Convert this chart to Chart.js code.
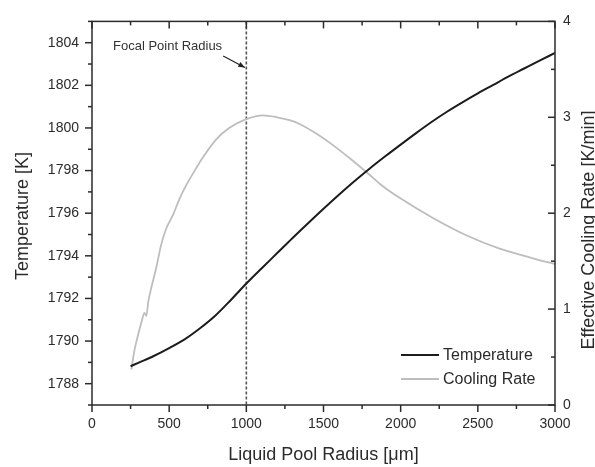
<!DOCTYPE html>
<html lang="en">
  <head>
    <meta charset="UTF-8" />
    <title>Liquid pool radius chart</title>
    <style>
      * {
        margin: 0;
        padding: 0;
        box-sizing: border-box;
      }
      body {
        background: #fff;
      }
      canvas {
        display: block;
      }
    </style>
  </head>
  <body>
    <canvas id="myChart" width="595" height="467"></canvas>

    <script src="https://cdn.jsdelivr.net/npm/chart.js"></script>
    <script>
      // temperature curve (left axis)
      const tempRadius = [250, 300, 400, 500, 600, 700, 800, 900, 1000, 1100, 1200, 1300, 1400, 1500,
        1600, 1700, 1800, 1900, 2000, 2100, 2200, 2300, 2400, 2500, 2600, 2700, 2800, 2900, 3000];
      const temperature = [1788.82, 1788.98, 1789.3, 1789.67, 1790.08, 1790.6, 1791.2, 1791.93, 1792.7,
        1793.42, 1794.13, 1794.84, 1795.53, 1796.21, 1796.87, 1797.5, 1798.1, 1798.67, 1799.22, 1799.76,
        1800.28, 1800.76, 1801.2, 1801.62, 1802.02, 1802.42, 1802.79, 1803.16, 1803.52];

      // cooling rate curve (right axis)
      const coolRadius = [255, 275, 300, 320, 340, 352, 365, 384, 416, 448, 481, 524, 567, 610, 653, 718,
        805, 891, 1000, 1107, 1200, 1280, 1345, 1453, 1561, 1680, 1777, 1870, 1993, 2209, 2425, 2641, 2857, 3000];
      const coolingRate = [0.37, 0.57, 0.74, 0.86, 0.96, 0.93, 1.08, 1.22, 1.43, 1.67, 1.84, 1.98, 2.15, 2.29,
        2.41, 2.58, 2.77, 2.89, 2.98, 3.02, 3.0, 2.97, 2.93, 2.83, 2.71, 2.56, 2.43, 2.3, 2.16, 1.95, 1.77,
        1.63, 1.53, 1.47];

      const xTicks = [0, 500, 1000, 1500, 2000, 2500, 3000];
      const tempTicks = [1788, 1790, 1792, 1794, 1796, 1798, 1800, 1802, 1804];
      const rateTicks = [0, 1, 2, 3, 4];
      const focalRadius = 1000;

      const FONT = "'Liberation Sans', Arial, sans-serif";
      const INK = "#2b2b2b";

      const decorations = {
        id: "decorations",
        beforeDatasetsDraw(chart) {
          const { ctx, chartArea: { top, bottom }, scales: { x } } = chart;
          const fx = x.getPixelForValue(focalRadius);
          ctx.save();
          ctx.strokeStyle = "#555";
          ctx.lineWidth = 1.6;
          ctx.setLineDash([3, 2]);
          ctx.beginPath();
          ctx.moveTo(fx, top);
          ctx.lineTo(fx, bottom);
          ctx.stroke();
          ctx.restore();
        },
        afterDraw(chart) {
          const {
            ctx,
            chartArea: { top, bottom, left, right },
            scales: { x, y, y1 },
          } = chart;
          ctx.save();

          // frame
          ctx.strokeStyle = INK;
          ctx.lineWidth = 1.5;
          ctx.strokeRect(left, top, right - left, bottom - top);

          function tick(x0, y0, x1, y1_) {
            ctx.beginPath();
            ctx.moveTo(x0, y0);
            ctx.lineTo(x1, y1_);
            ctx.stroke();
          }

          // x ticks: bottom outward, top inward
          for (let i = 0; i < xTicks.length; i++) {
            const px = x.getPixelForValue(xTicks[i]);
            tick(px, bottom, px, bottom + 7);
            tick(px, top, px, top + 7);
            if (i < xTicks.length - 1) {
              const mx = x.getPixelForValue((xTicks[i] + xTicks[i + 1]) / 2);
              tick(mx, bottom, mx, bottom + 4);
              tick(mx, top, mx, top + 4);
            }
          }
          // left ticks outward
          for (let v = Math.ceil(y.min); v <= y.max; v++) {
            const py = y.getPixelForValue(v);
            const major = tempTicks.includes(v);
            tick(left, py, left - (major ? 7 : 4), py);
          }
          // right ticks inward
          for (let i = 0; i < rateTicks.length; i++) {
            const py = y1.getPixelForValue(rateTicks[i]);
            tick(right, py, right - 7, py);
            if (i < rateTicks.length - 1) {
              const my = y1.getPixelForValue((rateTicks[i] + rateTicks[i + 1]) / 2);
              tick(right, my, right - 4, my);
            }
          }

          // axis titles
          ctx.fillStyle = INK;
          ctx.font = "18px " + FONT;
          ctx.textAlign = "center";
          ctx.textBaseline = "middle";
          ctx.fillText("Liquid Pool Radius [\u03bcm]", (left + right) / 2, 455);

          ctx.save();
          ctx.translate(23, 216);
          ctx.rotate(-Math.PI / 2);
          ctx.fillText("Temperature [K]", 0, 0);
          ctx.restore();

          ctx.save();
          ctx.translate(589, 230);
          ctx.rotate(-Math.PI / 2);
          ctx.fillText("Effective Cooling Rate [K/min]", 0, 0);
          ctx.restore();

          // legend
          const items = chart.data.datasets;
          ctx.font = "16px " + FONT;
          ctx.textAlign = "left";
          items.forEach((ds, i) => {
            const ly = 355 + i * 24;
            ctx.strokeStyle = ds.borderColor;
            ctx.lineWidth = ds.borderWidth;
            tick(401, ly, 439, ly);
            ctx.fillStyle = INK;
            ctx.fillText(ds.label, 443, ly + 1);
          });

          // focal point annotation
          ctx.font = "13px " + FONT;
          ctx.fillStyle = "#333";
          ctx.fillText("Focal Point Radius", 113, 46);
          const ax0 = x.getPixelForValue(850), ay0 = y1.getPixelForValue(3.64);
          const ax1 = x.getPixelForValue(focalRadius) - 1.5, ay1 = y1.getPixelForValue(3.52);
          ctx.strokeStyle = "#222";
          ctx.lineWidth = 1.2;
          tick(ax0, ay0, ax1, ay1);
          const ang = Math.atan2(ay1 - ay0, ax1 - ax0);
          ctx.fillStyle = "#222";
          ctx.beginPath();
          ctx.moveTo(ax1, ay1);
          ctx.lineTo(ax1 - 7 * Math.cos(ang - 0.4), ay1 - 7 * Math.sin(ang - 0.4));
          ctx.lineTo(ax1 - 7 * Math.cos(ang + 0.4), ay1 - 7 * Math.sin(ang + 0.4));
          ctx.closePath();
          ctx.fill();

          ctx.restore();
        },
      };

      const data = {
        datasets: [
          {
            label: "Temperature",
            data: tempRadius.map((r, i) => ({ x: r, y: temperature[i] })),
            yAxisID: "y",
            borderColor: "#1c1c1c",
            borderWidth: 2,
            pointRadius: 0,
            cubicInterpolationMode: "monotone",
          },
          {
            label: "Cooling Rate",
            data: coolRadius.map((r, i) => ({ x: r, y: coolingRate[i] })),
            yAxisID: "y1",
            borderColor: "#bdbdbd",
            borderWidth: 1.8,
            pointRadius: 0,
            cubicInterpolationMode: "monotone",
          },
        ],
      };

      const tickFont = { family: FONT, size: 14 };
      const plain = (v) => String(v);

      const config = {
        type: "line",
        data: data,
        options: {
          responsive: false,
          animation: false,
          layout: { padding: { top: 17, left: 0, right: 0, bottom: 0 } },
          plugins: {
            legend: { display: false },
            tooltip: { enabled: false },
          },
          scales: {
            x: {
              type: "linear",
              min: 0,
              max: 3000,
              grid: { display: false, drawTicks: false },
              border: { display: false },
              ticks: { font: tickFont, color: INK, padding: 11, maxRotation: 0, autoSkip: false, callback: plain },
              afterBuildTicks: (s) => { s.ticks = xTicks.map((v) => ({ value: v })); },
              afterFit: (s) => { s.height = 62; },
            },
            y: {
              position: "left",
              min: 1787,
              max: 1805,
              grid: { display: false, drawTicks: false },
              border: { display: false },
              ticks: { font: tickFont, color: INK, padding: 13, callback: plain },
              afterBuildTicks: (s) => { s.ticks = tempTicks.map((v) => ({ value: v })); },
              afterFit: (s) => { s.width = 92; },
            },
            y1: {
              position: "right",
              min: 0,
              max: 4,
              grid: { display: false, drawTicks: false },
              border: { display: false },
              ticks: { font: tickFont, color: INK, padding: 8, callback: plain },
              afterBuildTicks: (s) => { s.ticks = rateTicks.map((v) => ({ value: v })); },
              afterFit: (s) => { s.width = 40; },
            },
          },
        },
        plugins: [decorations],
      };

      const myChart = new Chart(document.getElementById("myChart"), config);
    </script>
  </body>
</html>
